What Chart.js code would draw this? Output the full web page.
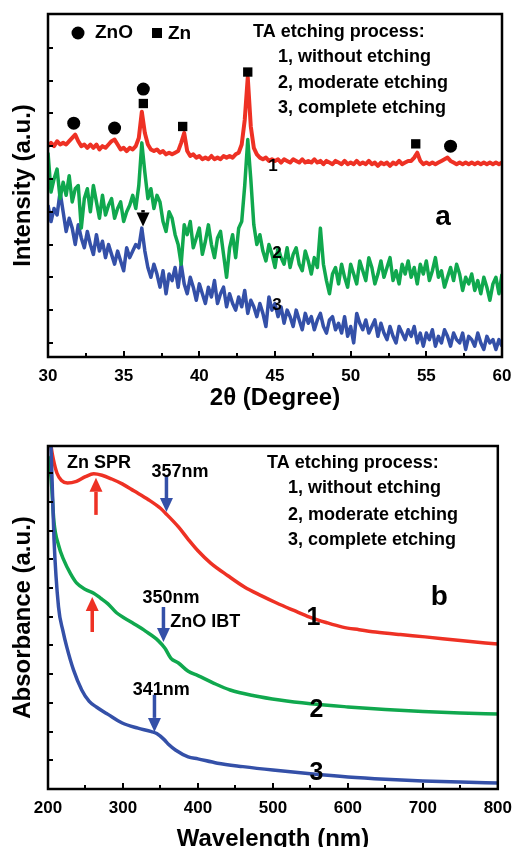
<!DOCTYPE html>
<html>
<head>
<meta charset="utf-8">
<script src="https://cdn.jsdelivr.net/npm/chart.js@4.4.1/dist/chart.umd.min.js"></script>
<style>
  body { margin: 0; background: #fff; overflow: hidden; }
  canvas { position: absolute; left: 0; }
  #xrd { top: 0; }
  #uv { top: 423px; }
</style>
</head>
<body>
<canvas id="xrd" width="521" height="423"></canvas>
<canvas id="uv" width="521" height="440"></canvas>
<script>
// ---- panel a : XRD ----
var angles = [30,30.2,30.4,30.6,30.8,31,31.2,31.4,31.6,31.8,
  32,32.2,32.4,32.6,32.8,33,33.2,33.4,33.6,33.8,
  34,34.2,34.4,34.6,34.8,35,35.2,35.4,35.6,35.8,
  36,36.2,36.4,36.6,36.8,37,37.2,37.4,37.6,37.8,
  38,38.2,38.4,38.6,38.8,39,39.2,39.4,39.6,39.8,
  40,40.2,40.4,40.6,40.8,41,41.2,41.4,41.6,41.8,
  42,42.2,42.4,42.6,42.8,43,43.2,43.4,43.6,43.8,
  44,44.2,44.4,44.6,44.8,45,45.2,45.4,45.6,45.8,
  46,46.2,46.4,46.6,46.8,47,47.2,47.4,47.6,47.8,
  48,48.2,48.4,48.6,48.8,49,49.2,49.4,49.6,49.8,
  50,50.2,50.4,50.6,50.8,51,51.2,51.4,51.6,51.8,
  52,52.2,52.4,52.6,52.8,53,53.2,53.4,53.6,53.8,
  54,54.2,54.4,54.6,54.8,55,55.2,55.4,55.6,55.8,
  56,56.2,56.4,56.6,56.8,57,57.2,57.4,57.6,57.8,
  58,58.2,58.4,58.6,58.8,59,59.2,59.4,59.6,59.8,
  60];
var xrd1 = [60,61,60,61.5,60.5,61,60.5,61.5,62.5,63.5,
  61.5,60,60.5,59.5,60.5,59.5,60.5,59,60,59.5,
  60.5,61.5,62,60.5,59,59.5,58.5,59.5,59,60,
  62.5,70.5,64,60.5,59,58.5,59,58,58.5,57.5,
  58,57.5,58,58.5,61,64,58.5,57,57.5,56.5,
  57,56,56.5,56,57,56,56.5,56,57,56.5,
  57,56.5,57.5,58,60.5,68,81,66,59.5,57.5,
  56.5,56,56.5,55.5,56,55.5,56,55,56,55.5,
  55,56,55.5,55,56,55,55.5,55,56,55,
  55.5,54.5,55.5,55,54.5,55.5,55,54.5,55.5,54.5,
  55,54.5,55.5,54.5,55,54.5,55.5,54.5,55,54,
  55,54.5,55,54,55,54.5,55.5,54.5,55,55.5,
  55.5,56.5,58,55.5,54.5,55,54.5,55,54.5,55,
  55.5,56,56.5,55.5,55,54.5,55,54.5,55,54.5,
  55,54.5,55,54.5,55,54.5,55,54.5,55,54.5,
  55];
var xrd2 = [58,46,50,53,44,49,45,51,43,47,
  48,35,44,47,40,48,43,38,45,39,
  42,44,38,41,43,37,40,42,45,41,
  48,61,52,44,47,41,45,43,37,34,
  40,38,33,30,24,36,33,37,29,32,
  35,27,31,36,30,26,32,34,27,20,
  29,33,26,35,37,48,62,50,36,30,
  33,28,25,30,27,23,29,26,24,29,
  23,27,29,24,22,28,25,21,26,23,
  35,24,19,15,21,23,18,24,20,17,
  24,21,18,25,22,19,26,23,18,21,
  25,20,23,26,19,22,18,24,21,25,
  20,23,18,24,21,25,19,22,26,20,
  22,17,20,23,19,24,21,16,20,18,
  21,16,19,15,20,17,13,18,20,15,
  21];
var xrd3 = [42,37,41,39,46,40,34,38,35,30,
  36,32,29,34,30,27,33,28,31,26,
  30,27,24,28,25,22,29,26,28,30,
  29,35,28,23,20,24,21,17,22,15,
  21,19,23,17,24,18,15,20,17,13,
  18,15,12,17,14,19,12,15,17,11,
  15,12,10,14,11,16,9,13,11,8,
  12,9,5,14,10,12,8,11,6,10,
  8,5,10,7,4,9,6,8,4,7,
  9,5,3,7,8,4,6,3,8,2,
  5,0,9,6,4,7,3,5,7,2,
  6,3,1,5,2,0,5,3,1,4,
  2,5,0,3,-1,3,1,4,-1,2,
  0,4,2,-1,3,1,0,3,-2,2,
  1,-1,3,0,-2,2,0,1,-2,1,
  -1];
// peak markers (2theta, height above the trace)
var znoPeakX = [31.7, 34.4, 36.3, 56.6];
var znoPeakY = [67, 65.5, 77.4, 60];
var znPeakX = [36.3, 38.9, 43.2, 54.3];
var znPeakY = [73, 66, 82.6, 60.7];
var xrdTicks = [30, 35, 40, 45, 50, 55, 60];

// ---- panel b : UV-vis ----
var wl1 = [200,204,207,212,218,226,238,250,261,272,285,299,315,334,350,357,374,387,400,417,440,462,485,505,528,549,571,593,615,637,670,703,750,800];
var abs1 = [12.8,11.95,11.5,11.0,10.75,10.66,10.72,10.88,10.98,10.93,10.8,10.63,10.38,10.08,9.78,9.6,9.13,8.7,8.3,7.87,7.43,7.04,6.73,6.48,6.22,5.99,5.8,5.64,5.55,5.47,5.38,5.3,5.17,5.05];
var wl2 = [200,204,208,214,221,230,238,250,261,270,280,291,312,330,347,356,364,374,387,400,420,443,475,509,550,600,650,700,750,800];
var abs2 = [11.6,10.87,9.3,8.5,7.98,7.5,7.18,6.95,6.82,6.65,6.45,6.15,5.8,5.5,5.17,4.9,4.55,4.39,4.1,3.95,3.7,3.45,3.25,3.1,2.97,2.86,2.77,2.7,2.65,2.61];
var wl3 = [200,204,208,214,220,225,234,245,255,265,280,299,320,338,345,355,361,370,387,400,426,460,500,550,600,650,700,750,800];
var abs3 = [13.5,11.9,8.7,6.35,5.5,4.95,4.15,3.45,3.05,2.85,2.6,2.3,2.12,2.0,1.93,1.72,1.55,1.36,1.12,1.05,0.9,0.78,0.66,0.53,0.42,0.34,0.28,0.24,0.21];

var RED = '#ee3124', GREEN = '#10a84e', BLUE = '#3450a8';
var FONT = '"Liberation Sans", Arial, sans-serif';
Chart.defaults.font.family = FONT;
Chart.defaults.color = '#000';

function pts(xs, ys) { return xs.map(function (x, i) { return {x: x, y: ys[i]}; }); }

function txt(ctx, s, x, y, size, align) {
  ctx.font = 'bold ' + size + 'px ' + FONT;
  ctx.fillStyle = '#000';
  ctx.textAlign = align || 'left';
  ctx.textBaseline = 'middle';
  ctx.fillText(s, x, y);
}

function arrow(ctx, x, y1, y2, color) {
  var dir = y2 > y1 ? 1 : -1, head = 14;
  ctx.fillStyle = color; ctx.strokeStyle = color; ctx.lineWidth = 3.5;
  ctx.beginPath(); ctx.moveTo(x, y1); ctx.lineTo(x, y2 - dir * head); ctx.stroke();
  ctx.beginPath(); ctx.moveTo(x - 6.5, y2 - dir * head); ctx.lineTo(x + 6.5, y2 - dir * head); ctx.lineTo(x, y2); ctx.closePath(); ctx.fill();
}

// frame, inward ticks and annotations
var decor = {
  id: 'decor',
  afterDatasetsDraw: function (chart, args, o) {
    var ctx = chart.ctx, a = chart.chartArea, xs = chart.scales.x, ys = chart.scales.y;
    ctx.save();
    ctx.strokeStyle = '#000';
    ctx.lineWidth = 2;
    ctx.beginPath();
    ys.ticks.forEach(function (t) {
      if (Math.abs(t.value % o.yStep) > 1e-6) return;
      var p = Math.round(ys.getPixelForValue(t.value));
      if (p > a.bottom - 3 || p < a.top + 3) return;
      ctx.moveTo(a.left, p); ctx.lineTo(a.left + 5, p);
    });
    var n = Math.round((xs.max - xs.min) / o.xMinor);
    for (var i = 1; i < n; i++) {
      var px = Math.round(xs.getPixelForValue(xs.min + i * o.xMinor));
      ctx.moveTo(px, a.bottom); ctx.lineTo(px, a.bottom - (i % 2 ? 4 : 6));
    }
    ctx.stroke();
    ctx.lineWidth = 2.5;
    ctx.strokeRect(a.left, a.top, a.right - a.left, a.bottom - a.top);

    (o.arrows || []).forEach(function (r) {
      arrow(ctx, xs.getPixelForValue(r.x), ys.getPixelForValue(r.from), ys.getPixelForValue(r.to), r.color);
    });
    (o.labels || []).forEach(function (l) {
      txt(ctx, l.text, xs.getPixelForValue(l.x), ys.getPixelForValue(l.y), l.size, l.align);
    });
    (o.boxText || []).forEach(function (l) {
      txt(ctx, l.text, a.left + l.dx, a.top + l.dy, l.size, 'left');
    });
    if (o.symbolKey) {
      ctx.fillStyle = '#000';
      ctx.beginPath(); ctx.arc(a.left + 30, a.top + 19, 6.5, 0, Math.PI * 2); ctx.fill();
      ctx.fillRect(a.left + 104, a.top + 14, 10, 10);
    }
    ctx.restore();
  }
};

var processText = ['TA etching process:', '1, without etching', '2, moderate etching', '3, complete etching'];

new Chart(document.getElementById('xrd'), {
  type: 'line',
  data: {
    datasets: [
      {data: pts(angles, xrd1), borderColor: RED, borderWidth: 4, order: 3},
      {data: pts(angles, xrd3), borderColor: BLUE, borderWidth: 3.5, order: 2},
      {data: pts(angles, xrd2), borderColor: GREEN, borderWidth: 3.5, order: 1},
      {type: 'scatter', data: pts(znoPeakX, znoPeakY), pointStyle: 'circle', pointRadius: 6.5, backgroundColor: '#000', borderWidth: 0, order: 0},
      {type: 'scatter', data: pts(znPeakX, znPeakY), pointStyle: 'rect', pointRadius: 6.6, backgroundColor: '#000', borderWidth: 0, order: 0}
    ]
  },
  options: {
    responsive: false,
    animation: false,
    devicePixelRatio: 1,
    layout: {padding: {top: 14, right: 19, left: 0, bottom: 0}},
    elements: {point: {radius: 0}, line: {tension: 0, borderJoinStyle: 'round'}},
    plugins: {
      legend: {display: false},
      tooltip: {enabled: false},
      decor: {
        yStep: 10, xMinor: 2.5,
        symbolKey: true,
        arrows: [{x: 36.28, from: 40.5, to: 35.5, color: '#000'}],
        labels: [
          {text: '1', x: 44.87, y: 53.7, size: 17, align: 'center'},
          {text: '2', x: 45.13, y: 27.4, size: 17, align: 'center'},
          {text: '3', x: 45.13, y: 11.6, size: 17, align: 'center'},
          {text: 'a', x: 56.1, y: 38.4, size: 28, align: 'center'}
        ],
        boxText: [
          {text: 'ZnO', dx: 47, dy: 19, size: 19},
          {text: 'Zn', dx: 120, dy: 20, size: 19},
          {text: processText[0], dx: 205, dy: 18, size: 18},
          {text: processText[1], dx: 230, dy: 43, size: 18},
          {text: processText[2], dx: 230, dy: 69, size: 18},
          {text: processText[3], dx: 230, dy: 94, size: 18}
        ]
      }
    },
    scales: {
      x: {
        type: 'linear', min: 30, max: 60,
        afterBuildTicks: function (s) { s.ticks = xrdTicks.map(function (v) { return {value: v}; }); },
        afterFit: function (s) { s.height = 66; },
        grid: {display: false, drawTicks: false},
        border: {display: false},
        ticks: {padding: 9, font: {size: 17, weight: 'bold'}, maxRotation: 0},
        title: {display: true, text: '2θ (Degree)', font: {size: 24, weight: 'bold'}, padding: {top: 0, bottom: 10}}
      },
      y: {
        min: -4.3, max: 100.3,
        ticks: {display: false, stepSize: 10},
        afterFit: function (s) { s.width = 48; },
        grid: {display: false, drawTicks: false},
        border: {display: false},
        title: {display: true, text: 'Intensity (a.u.)', font: {size: 24, weight: 'bold'}, padding: {top: 9, bottom: 0}}
      }
    }
  },
  plugins: [decor]
});

new Chart(document.getElementById('uv'), {
  type: 'line',
  data: {
    datasets: [
      {data: pts(wl3, abs3), borderColor: BLUE, borderWidth: 3.5},
      {data: pts(wl2, abs2), borderColor: GREEN, borderWidth: 3.5},
      {data: pts(wl1, abs1), borderColor: RED, borderWidth: 3.5}
    ]
  },
  options: {
    responsive: false,
    animation: false,
    devicePixelRatio: 1,
    layout: {padding: {top: 23, right: 17, left: 0, bottom: 0}},
    elements: {point: {radius: 0}, line: {cubicInterpolationMode: 'monotone'}},
    plugins: {
      legend: {display: false},
      tooltip: {enabled: false},
      decor: {
        yStep: 1, xMinor: 50,
        arrows: [
          {x: 264, from: 9.55, to: 10.84, color: RED},
          {x: 259, from: 5.47, to: 6.69, color: RED},
          {x: 358, from: 10.94, to: 9.65, color: BLUE},
          {x: 354, from: 6.34, to: 5.12, color: BLUE},
          {x: 342, from: 3.28, to: 1.99, color: BLUE}
        ],
        labels: [
          {text: '357nm', x: 338, y: 11.05, size: 18, align: 'left'},
          {text: '350nm', x: 326, y: 6.66, size: 18, align: 'left'},
          {text: 'ZnO IBT', x: 363, y: 5.82, size: 18, align: 'left'},
          {text: '341nm', x: 313, y: 3.45, size: 18, align: 'left'},
          {text: '1', x: 554, y: 5.96, size: 25, align: 'center'},
          {text: '2', x: 558, y: 2.75, size: 25, align: 'center'},
          {text: '3', x: 558, y: 0.56, size: 25, align: 'center'},
          {text: 'b', x: 722, y: 6.69, size: 28, align: 'center'}
        ],
        boxText: [
          {text: 'Zn SPR', dx: 19, dy: 17, size: 18},
          {text: processText[0], dx: 219, dy: 17, size: 18},
          {text: processText[1], dx: 240, dy: 42, size: 18},
          {text: processText[2], dx: 240, dy: 69, size: 18},
          {text: processText[3], dx: 240, dy: 94, size: 18}
        ]
      }
    },
    scales: {
      x: {
        type: 'linear', min: 200, max: 800,
        ticks: {stepSize: 100, padding: 9, font: {size: 17, weight: 'bold'}, maxRotation: 0},
        afterFit: function (s) { s.height = 74; },
        grid: {display: false, drawTicks: false},
        border: {display: false},
        title: {display: true, text: 'Wavelength (nm)', font: {size: 24, weight: 'bold'}, padding: {top: 0, bottom: 9}}
      },
      y: {
        min: 0, max: 11.95,
        ticks: {display: false, stepSize: 1},
        afterFit: function (s) { s.width = 48; },
        grid: {display: false, drawTicks: false},
        border: {display: false},
        title: {display: true, text: 'Absorbance (a.u.)', font: {size: 24, weight: 'bold'}, padding: {top: 9, bottom: 0}}
      }
    }
  },
  plugins: [decor]
});
</script>
</body>
</html>
